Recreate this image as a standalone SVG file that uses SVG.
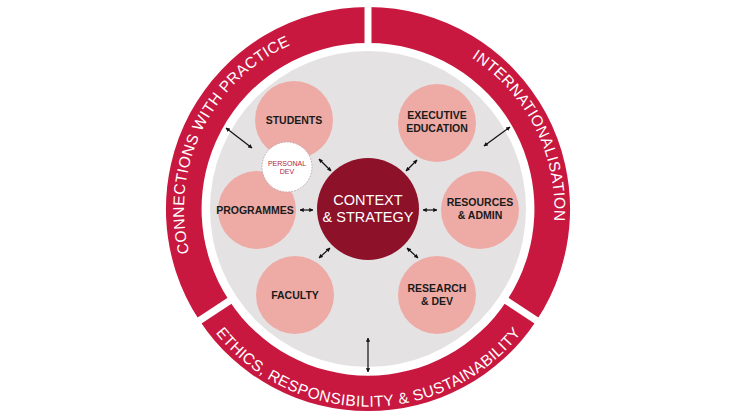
<svg xmlns="http://www.w3.org/2000/svg" width="733" height="414" viewBox="0 0 733 414">
<style>
.ring{fill:#c8183f}
.node{fill:#eeaba6}
.lbl{font-family:"Liberation Sans",Arial,sans-serif;font-weight:bold;font-size:10.5px;fill:#1a1a1a;text-anchor:middle}
.rt{font-family:"Liberation Sans",Arial,sans-serif;font-size:15.5px;fill:#fff;letter-spacing:0.4px}
.ar{stroke:#111;stroke-width:1.2;fill:none;marker-start:url(#h);marker-end:url(#h)}
</style>
<defs>
<marker id="h" viewBox="0 0 10 10" refX="9" refY="5" markerWidth="3.5" markerHeight="3.5" orient="auto-start-reverse"><path d="M0,0 L10,5 L0,10 z" fill="#111"/></marker>
<path id="pL" d="M 216.3 312.2 A 180 180 0 0 1 354 29.5"/>
<path id="pR" d="M 381 29.5 A 180 180 0 0 1 523 311"/>
<path id="pB" d="M 207 321 A 195 195 0 0 0 530 321"/>
</defs>
<rect width="733" height="414" fill="#fff"/>
<g id="ring">
<path class="ring" d="M 368 7 A 202 202 0 0 1 536.5 320.5 L 506.6 301 A 166 166 0 0 0 368 43 Z"/>
<path class="ring" d="M 368 7 A 202 202 0 0 0 199.5 320.5 L 229.4 301 A 166 166 0 0 1 368 43 Z"/>
<path class="ring" d="M 199.5 320.5 A 202 202 0 0 0 536.5 320.5 L 506.6 301 A 166 166 0 0 1 229.4 301 Z"/>
<g stroke="#fff" stroke-width="7">
<line x1="368" y1="2" x2="368" y2="48"/>
<line x1="195" y1="323.5" x2="233" y2="298.5"/>
<line x1="541" y1="323.5" x2="503" y2="298.5"/>
</g>
<text class="rt"><textPath href="#pL" startOffset="50%" text-anchor="middle">CONNECTIONS WITH PRACTICE</textPath></text>
<text class="rt"><textPath href="#pR" startOffset="50%" text-anchor="middle">INTERNATIONALISATION</textPath></text>
<text class="rt"><textPath href="#pB" startOffset="50%" text-anchor="middle">ETHICS, RESPONSIBILITY &amp; SUSTAINABILITY</textPath></text>
</g>
<circle cx="368" cy="209" r="158" fill="#e5e2e4"/>
<g id="students"><circle class="node" cx="294" cy="120" r="39"/><text class="lbl" x="294" y="124">STUDENTS</text></g>
<g id="exec"><circle class="node" cx="437" cy="123" r="39"/><text class="lbl" x="437" y="119">EXECUTIVE</text><text class="lbl" x="437" y="132">EDUCATION</text></g>
<g id="programmes"><circle class="node" cx="257" cy="210" r="39"/><text class="lbl" x="255" y="214">PROGRAMMES</text></g>
<g id="resources"><circle class="node" cx="480" cy="210" r="39"/><text class="lbl" x="480" y="206">RESOURCES</text><text class="lbl" x="480" y="219">&amp; ADMIN</text></g>
<g id="faculty"><circle class="node" cx="295" cy="295" r="39"/><text class="lbl" x="295" y="299">FACULTY</text></g>
<g id="research"><circle class="node" cx="437" cy="295" r="39"/><text class="lbl" x="437" y="292">RESEARCH</text><text class="lbl" x="437" y="305">&amp; DEV</text></g>
<g id="personal"><circle cx="287" cy="167" r="25" fill="#fff" stroke="#b9a9ad" stroke-width="1" stroke-dasharray="1.5 1.5"/><text x="287" y="166" text-anchor="middle" font-family="Liberation Sans,Arial,sans-serif" font-size="7" fill="#b0263e">PERSONAL</text><text x="287" y="174" text-anchor="middle" font-family="Liberation Sans,Arial,sans-serif" font-size="7" fill="#b0263e">DEV</text></g>
<g id="center"><circle cx="368" cy="209" r="51" fill="#8c1129"/><text x="368" y="205" text-anchor="middle" font-family="Liberation Sans,Arial,sans-serif" font-size="14.5" fill="#fff">CONTEXT</text><text x="368" y="222" text-anchor="middle" font-family="Liberation Sans,Arial,sans-serif" font-size="14.5" fill="#fff">&amp; STRATEGY</text></g>
<g id="connectors">
<line class="ar" x1="226" y1="128" x2="252" y2="148"/>
<line class="ar" x1="484" y1="146" x2="510" y2="127"/>
<line class="ar" x1="319" y1="159" x2="331" y2="171"/>
<line class="ar" x1="406" y1="171" x2="417" y2="160"/>
<line class="ar" x1="300" y1="210" x2="313" y2="210"/>
<line class="ar" x1="423" y1="210" x2="437" y2="210"/>
<line class="ar" x1="319" y1="258" x2="330" y2="248"/>
<line class="ar" x1="407" y1="248" x2="418" y2="258"/>
<line class="ar" x1="368" y1="338" x2="368" y2="372"/>
</g>
</svg>
